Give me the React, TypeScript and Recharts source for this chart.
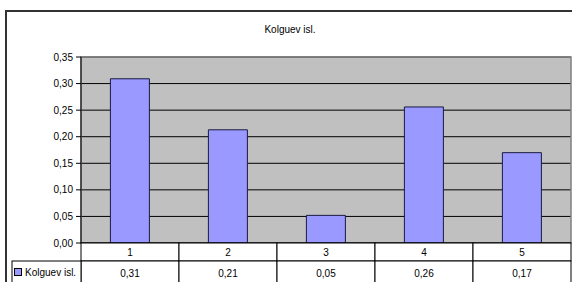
import React from 'react';
import { BarChart, Bar, XAxis, YAxis, CartesianGrid, ReferenceArea } from 'recharts';

const categories = ['1', '2', '3', '4', '5'];
const seriesName = 'Kolguev isl.';
const kolguevValues = [0.309, 0.213, 0.052, 0.256, 0.17];
const yTicks = [0, 0.05, 0.1, 0.15, 0.2, 0.25, 0.3, 0.35];

const data = categories.map((cat, i) => ({ cat, value: kolguevValues[i] }));

const FONT = '"Liberation Sans", Arial, sans-serif';
const fmt = (v: number) => v.toFixed(2).replace('.', ',');

const PLOT_LEFT = 81;
const PLOT_RIGHT = 571;
const CELL_W = (PLOT_RIGHT - PLOT_LEFT) / categories.length;
const ROW1_H = 18;

// data table under the plot, drawn per category tick
const TableTick = (props: any) => {
  const { x, y, payload, index } = props;
  const left = x - CELL_W / 2;
  const row2 = y + ROW1_H;
  const val = kolguevValues[index];
  return (
    <g>
      <rect x={left} y={y} width={CELL_W} height={ROW1_H} fill="#fff" stroke="#000" strokeWidth={1} />
      <rect x={left} y={row2} width={CELL_W} height={30} fill="#fff" stroke="#000" strokeWidth={1} />
      <text x={x} y={y + 13} textAnchor="middle" fontSize={10} fontFamily={FONT} fill="#000">
        {payload.value}
      </text>
      <text x={x} y={row2 + 16} textAnchor="middle" fontSize={10} fontFamily={FONT} fill="#000">
        {fmt(val)}
      </text>
      {index === 0 && (
        <g>
          <rect x={12} y={row2} width={left - 12} height={30} fill="#fff" stroke="#000" strokeWidth={1} />
          <rect x={14.5} y={row2 + 7.5} width={7} height={7} fill="#9999FF" stroke="#000" strokeWidth={1} />
          <text x={25} y={row2 + 15} fontSize={10} fontFamily={FONT} fill="#000">
            {seriesName}
          </text>
        </g>
      )}
    </g>
  );
};

export default function App() {
  return (
    <div style={{ position: 'absolute', left: 0, top: 0, width: 572, height: 282, overflow: 'hidden', background: '#fff' }}>
      <div
        style={{
          position: 'absolute',
          left: 5,
          top: 10,
          width: 620,
          height: 320,
          border: '2px solid #333',
          boxSizing: 'border-box',
        }}
      />
      <div
        style={{
          position: 'absolute',
          top: 24,
          left: 0,
          width: 580,
          textAlign: 'center',
          fontFamily: FONT,
          fontSize: 10,
          color: '#000',
        }}
      >
        {seriesName}
      </div>
      <div style={{ position: 'absolute', left: 0, top: 0 }}>
        <BarChart
          width={572}
          height={282}
          data={data}
          margin={{ top: 57, right: 572 - PLOT_RIGHT, left: 0, bottom: 0 }}
          barCategoryGap="30%"
        >
          <CartesianGrid vertical={false} stroke="#000" fill="#C0C0C0" fillOpacity={1} />
          <ReferenceArea y1={0} y2={0.35} fill="none" stroke="#808080" strokeWidth={1.5} ifOverflow="visible" />
          <XAxis
            dataKey="cat"
            height={282 - 57 - 186}
            axisLine={{ stroke: '#000' }}
            tickLine={false}
            tickSize={0}
            tickMargin={0}
            interval={0}
            tick={<TableTick />}
          />
          <YAxis
            width={PLOT_LEFT}
            domain={[0, 0.35]}
            ticks={yTicks}
            tickFormatter={fmt}
            axisLine={{ stroke: '#000' }}
            tickLine={{ stroke: '#000' }}
            tickSize={5}
            tickMargin={3}
            tick={{ fontSize: 10, fontFamily: FONT, fill: '#000' }}
            interval={0}
          />
          <Bar dataKey="value" fill="#9999FF" stroke="#1a1a40" strokeWidth={1} isAnimationActive={false} />
        </BarChart>
      </div>
    </div>
  );
}
